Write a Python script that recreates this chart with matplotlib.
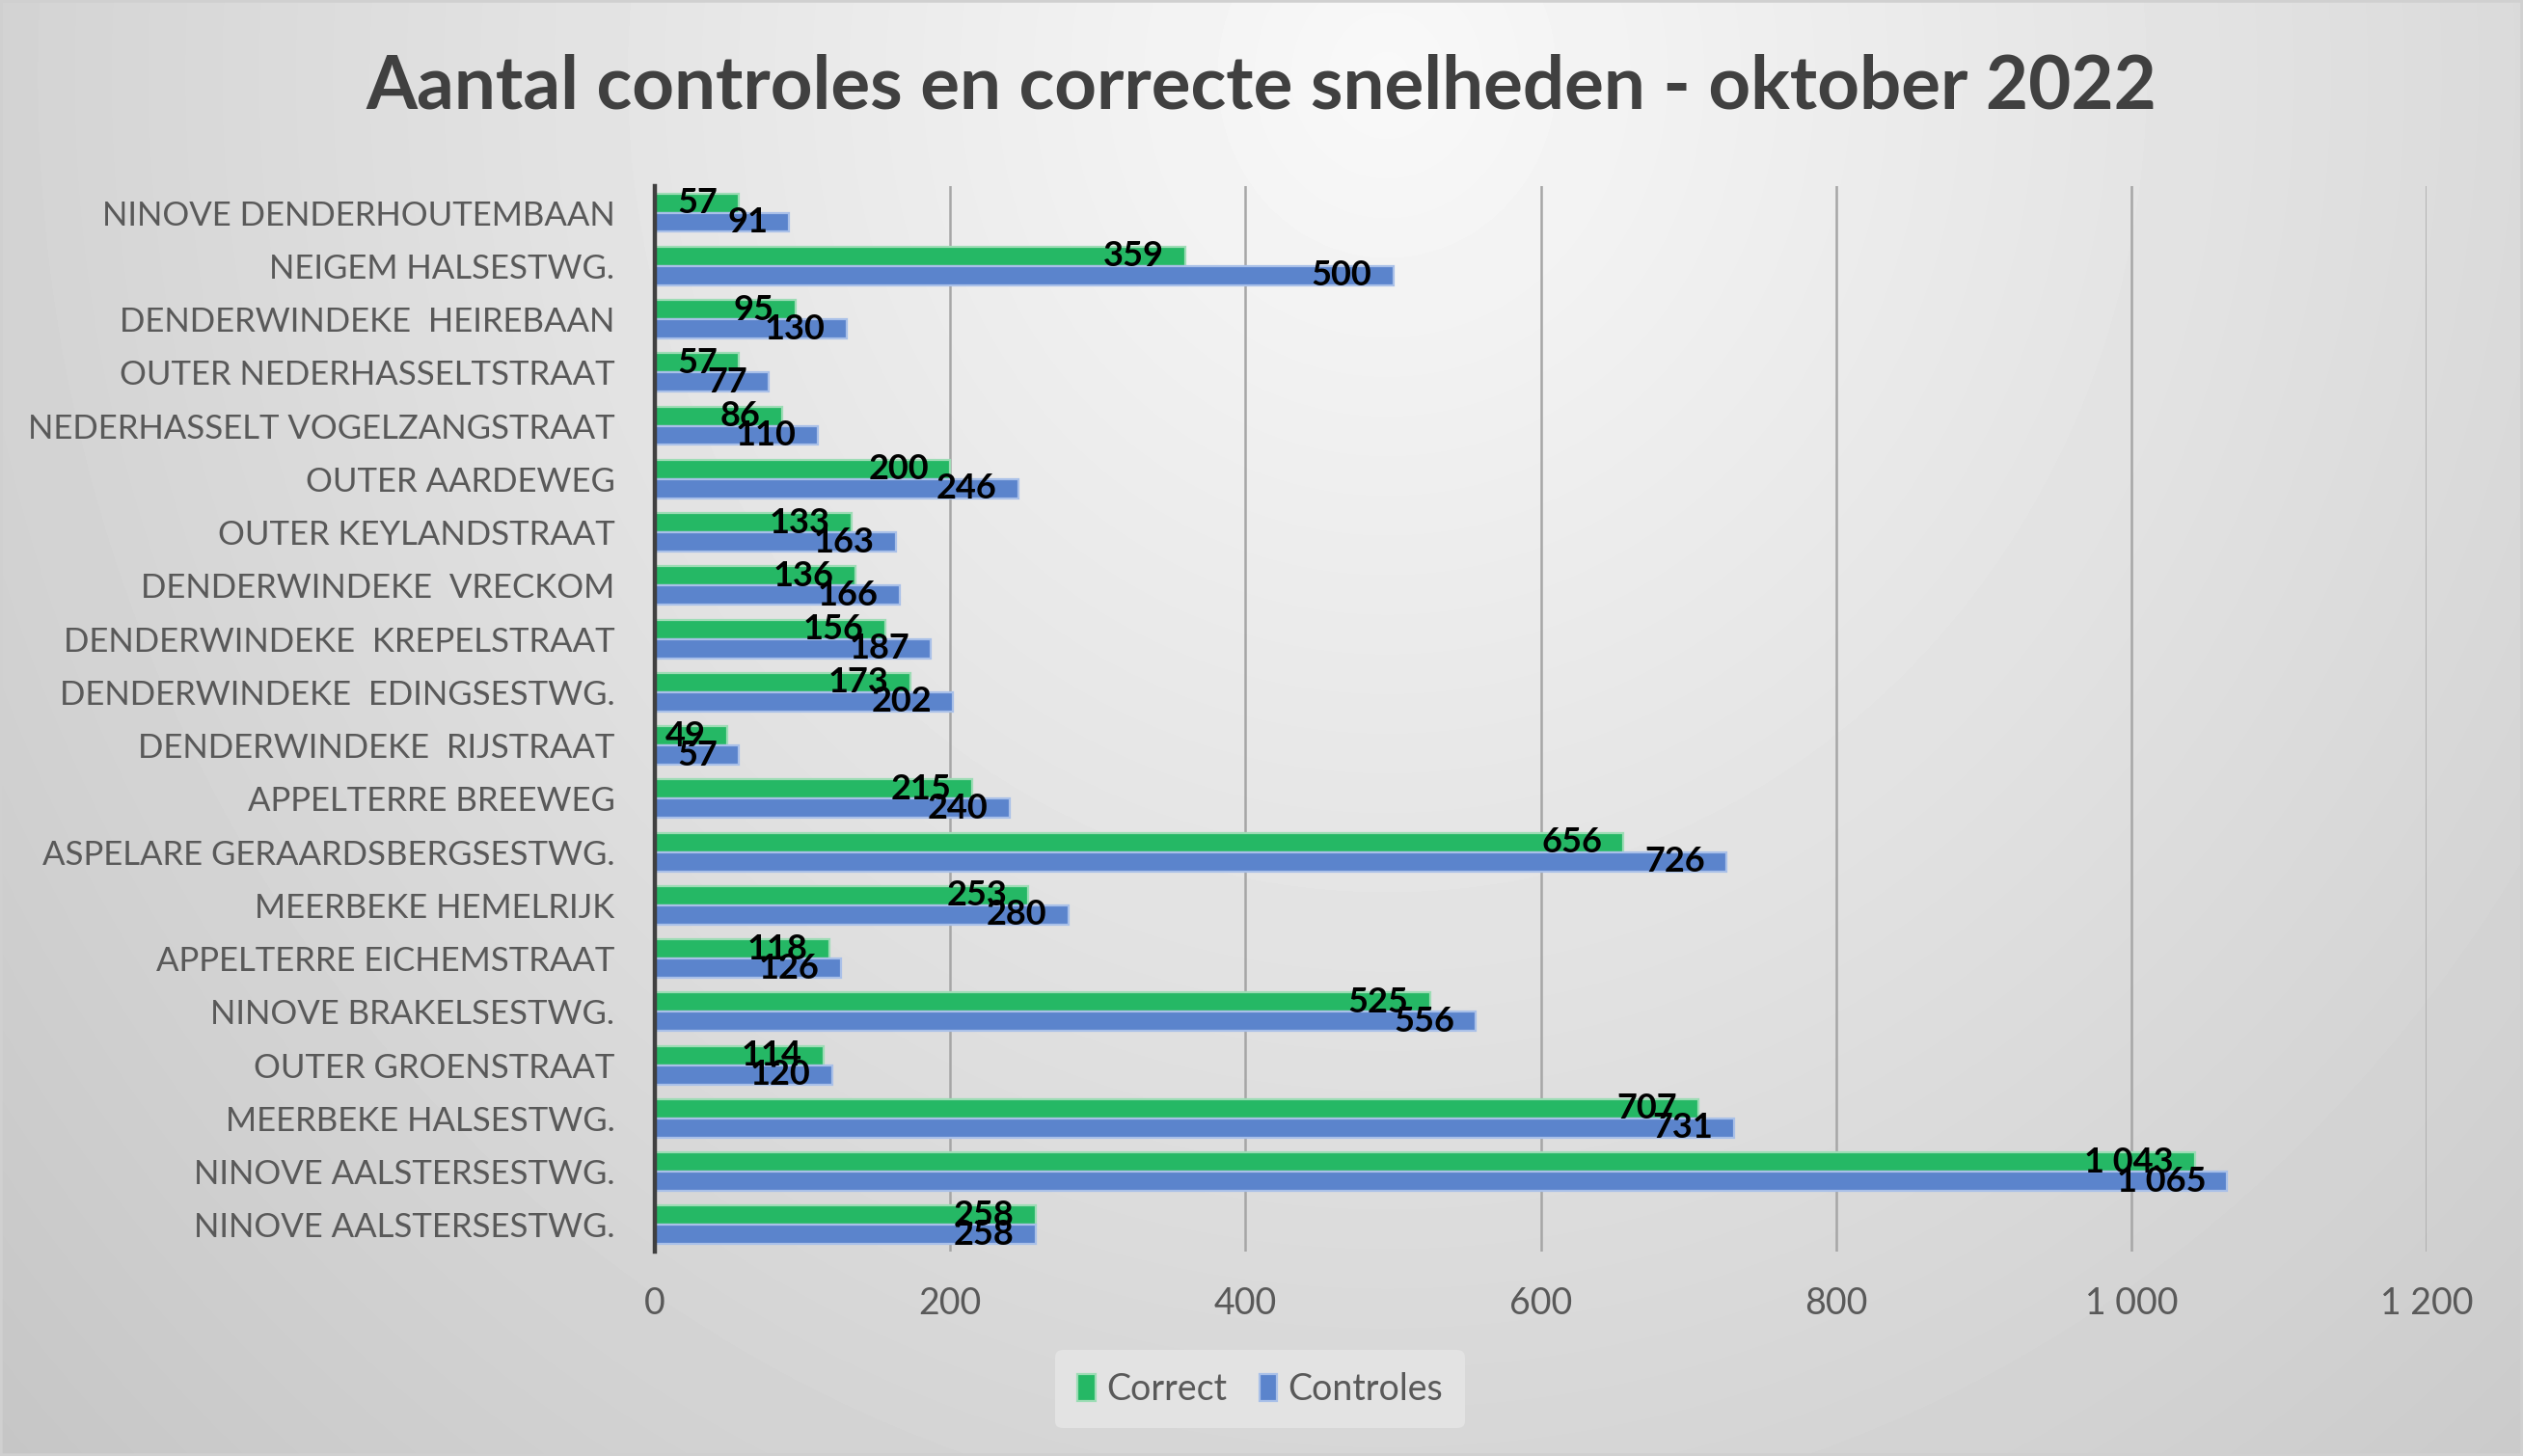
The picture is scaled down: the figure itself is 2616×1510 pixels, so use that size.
import numpy as np
import matplotlib.pyplot as plt
from matplotlib.patches import Rectangle

plt.rcParams['font.family'] = ['Lato', 'DejaVu Sans']

# categories as listed from top to bottom in the chart
locations = ['NINOVE DENDERHOUTEMBAAN', 'NEIGEM HALSESTWG.', 'DENDERWINDEKE  HEIREBAAN',
             'OUTER NEDERHASSELTSTRAAT', 'NEDERHASSELT VOGELZANGSTRAAT', 'OUTER AARDEWEG',
             'OUTER KEYLANDSTRAAT', 'DENDERWINDEKE  VRECKOM', 'DENDERWINDEKE  KREPELSTRAAT',
             'DENDERWINDEKE  EDINGSESTWG.', 'DENDERWINDEKE  RIJSTRAAT', 'APPELTERRE BREEWEG',
             'ASPELARE GERAARDSBERGSESTWG.', 'MEERBEKE HEMELRIJK', 'APPELTERRE EICHEMSTRAAT',
             'NINOVE BRAKELSESTWG.', 'OUTER GROENSTRAAT', 'MEERBEKE HALSESTWG.',
             'NINOVE AALSTERSESTWG.', 'NINOVE AALSTERSESTWG.']
correct = [57, 359, 95, 57, 86, 200, 133, 136, 156, 173, 49, 215, 656, 253, 118, 525, 114, 707, 1043, 258]
controles = [91, 500, 130, 77, 110, 246, 163, 166, 187, 202, 57, 240, 726, 280, 126, 556, 120, 731, 1065, 258]
xticks = [0, 200, 400, 600, 800, 1000, 1200]

green = '#25b865'
blue = '#5b84cc'
text_gray = '#595959'


def fmt(v):
    return f"{v:,}".replace(",", " ")


fig = plt.figure(figsize=(13.08, 7.55), dpi=200)

# background gradient (light at top centre, grey towards the edges)
bg = fig.add_axes([0, 0, 1, 1], zorder=-10)
gx, gy = np.meshgrid(np.linspace(0, 1, 400), np.linspace(0, 1, 240))
r = np.sqrt(((gx - 0.55) / 0.75) ** 2 + ((gy - 0.95) / 1.4) ** 2)
shade = np.clip(0.975 - 0.2 * r, 0, 1)
bg.imshow(shade, cmap='gray', vmin=0, vmax=1, origin='lower',
          extent=[0, 1, 0, 1], aspect='auto', interpolation='bilinear')
bg.set_axis_off()
fig.patches.append(Rectangle((0, 0), 1, 1, transform=fig.transFigure,
                             fill=False, edgecolor='#d0d0d0', linewidth=2))

ax = fig.add_axes([0.2596, 0.1404, 0.9618 - 0.2596, 0.8722 - 0.1404])
ax.set_facecolor('none')

y = np.arange(len(locations))
h = 0.36
b1 = ax.barh(y - 0.18, correct, height=h, color=green, edgecolor='#9ddcb5',
             linewidth=0.8, label='Correct', zorder=3)
b2 = ax.barh(y + 0.18, controles, height=h, color=blue, edgecolor='#a9c0e8',
             linewidth=0.8, label='Controles', zorder=3)

for bars, vals in ((b1, correct), (b2, controles)):
    for bar, v in zip(bars, vals):
        ax.annotate(fmt(v), (bar.get_width(), bar.get_y() + bar.get_height() / 2),
                    xytext=(-8, 0), textcoords='offset points', ha='right', va='center',
                    fontsize=13, fontweight='bold', color='black', zorder=5)

ax.set_ylim(len(locations) - 0.5, -0.5)
ax.set_xlim(0, 1200)
ax.set_xticks(xticks)
ax.set_xticklabels([fmt(t) for t in xticks])
ax.set_yticks(y)
ax.set_yticklabels(locations)
ax.tick_params(axis='y', length=0, pad=15, labelsize=12.5, labelcolor=text_gray)
ax.tick_params(axis='x', length=0, pad=13, labelsize=13.5, labelcolor=text_gray)
ax.grid(axis='x', color='#a6a6a6', linewidth=0.9, zorder=0)
for s in ('top', 'right', 'bottom'):
    ax.spines[s].set_visible(False)
ax.spines['left'].set_color('#404040')
ax.spines['left'].set_linewidth(1.6)
ax.spines['left'].set_zorder(4)

fig.text(0.5, 0.940, 'Aantal controles en correcte snelheden - oktober 2022',
         ha='center', va='center', fontsize=27.5, fontweight='bold', color='#404040')

leg = fig.legend(loc='center', bbox_to_anchor=(0.4995, 0.0457), ncol=2, frameon=True,
                 fontsize=13.5, handlelength=0.5, handleheight=0.8, handletextpad=0.3,
                 columnspacing=0.9, borderpad=0.6, labelcolor=text_gray)
leg.get_frame().set_facecolor('#e3e3e3')
leg.get_frame().set_edgecolor('none')
leg.get_frame().set_alpha(1)

fig.savefig('out.png', dpi=200)
